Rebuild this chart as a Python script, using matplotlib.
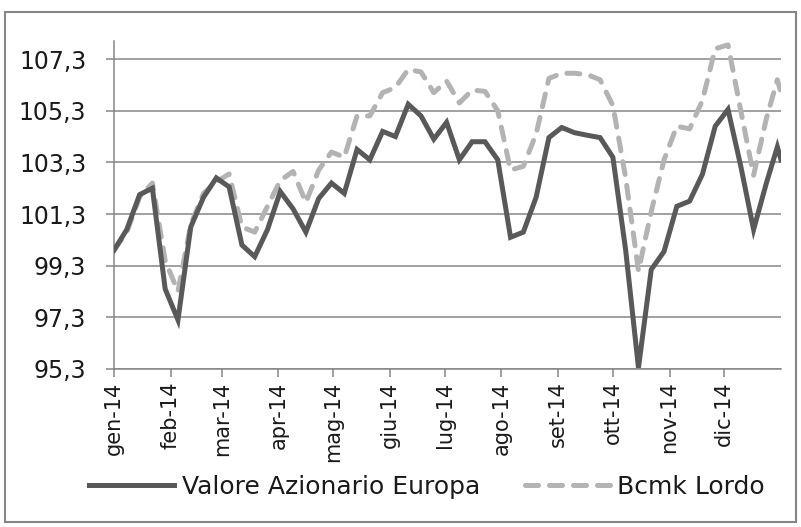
import pandas as pd
import matplotlib
matplotlib.use('Agg')
import matplotlib.pyplot as plt
from matplotlib.patches import Rectangle

# date settimanali (mercoledì) + ultimi due punti di fine anno
date = list(pd.date_range('2014-01-01', '2014-12-24', freq='7D')) + [pd.Timestamp('2014-12-30'), pd.Timestamp('2015-01-01')]

valore_azionario = [99.9, 100.7, 102.05, 102.3, 98.4, 97.2, 100.8, 101.95, 102.7, 102.35,
                    100.1, 99.65, 100.7, 102.17, 101.5, 100.6, 101.9, 102.5, 102.1, 103.8,
                    103.4, 104.5, 104.3, 105.55, 105.1, 104.2, 104.85, 103.4, 104.1, 104.1,
                    103.4, 100.4, 100.6, 101.95, 104.26, 104.65, 104.45, 104.35, 104.26, 103.5,
                    99.9, 95.35, 99.15, 99.85, 101.6, 101.8, 102.84, 104.7, 105.35, 103.15,
                    100.7, 102.5, 103.9, 103.4]
bcmk_lordo = [99.9, 100.6, 101.95, 102.5, 99.5, 98.3, 100.9, 102.1, 102.55, 102.85,
              100.8, 100.6, 101.6, 102.6, 102.95, 101.75, 103.0, 103.7, 103.5, 105.1,
              105.1, 106.0, 106.2, 106.9, 106.8, 106.0, 106.45, 105.6, 106.1, 106.05,
              105.3, 103.0, 103.15, 104.4, 106.55, 106.75, 106.75, 106.7, 106.5, 105.5,
              102.7, 99.1, 101.4, 103.4, 104.7, 104.6, 105.7, 107.7, 107.85, 105.3,
              102.8, 105.0, 106.5, 106.0]

mesi = ['gen-14', 'feb-14', 'mar-14', 'apr-14', 'mag-14', 'giu-14',
        'lug-14', 'ago-14', 'set-14', 'ott-14', 'nov-14', 'dic-14']
y_ticks = [95.3, 97.3, 99.3, 101.3, 103.3, 105.3, 107.3]

plt.rcParams['font.family'] = ['DejaVu Sans']
grigio = '#868686'

fig = plt.figure(figsize=(8.01, 5.27), dpi=100)
W, H = 801, 527
ax = fig.add_axes([114 / W, 1 - 369 / H, (781 - 114) / W, (369 - 41) / H])

ax.plot(date, valore_azionario, color='#595959', lw=3.6, solid_joinstyle='miter',
        label='Valore Azionario Europa', zorder=3)
ax.plot(date, bcmk_lordo, color='#b3b3b3', lw=3.6, linestyle=(0, (2.6, 2.2)),
        dash_capstyle='round', label='Bcmk Lordo', zorder=2)

ax.set_ylim(95.3, 108.0)
ax.set_yticks(y_ticks)
ax.set_yticklabels([f'{v:.1f}'.replace('.', ',') for v in y_ticks], fontsize=17, color='#1a1a1a')
ax.yaxis.grid(True, color=grigio, lw=1.1)
ax.set_axisbelow(True)

ax.set_xlim(pd.Timestamp('2014-01-01'), pd.Timestamp('2015-01-01'))
mesi_pos = [pd.Timestamp(2014, m, 1) for m in range(1, 13)]
ax.set_xticks(mesi_pos)
ax.set_xticklabels(mesi, rotation=90, fontsize=15, color='#1a1a1a')

ax.tick_params(axis='y', length=6, width=1.1, color=grigio, pad=14)
ax.tick_params(axis='x', length=6, width=1.1, color=grigio, pad=3)
for s in ['top', 'right']:
    ax.spines[s].set_visible(False)
for s in ['left', 'bottom']:
    ax.spines[s].set_color(grigio)
    ax.spines[s].set_linewidth(1.1)

fig.legend(loc='center', bbox_to_anchor=(427 / W, 1 - 487 / H), ncol=2, frameon=False,
           fontsize=18, handlelength=3.4, handletextpad=0.3, columnspacing=1.8,
           labelcolor='#1a1a1a')

# cornice esterna
fig.patches.append(Rectangle((5 / W, 1 - 522 / H), (796 - 5) / W, (522 - 12) / H,
                             transform=fig.transFigure, fill=False, edgecolor=grigio, lw=1.5))

fig.savefig('out.png', dpi=100)
